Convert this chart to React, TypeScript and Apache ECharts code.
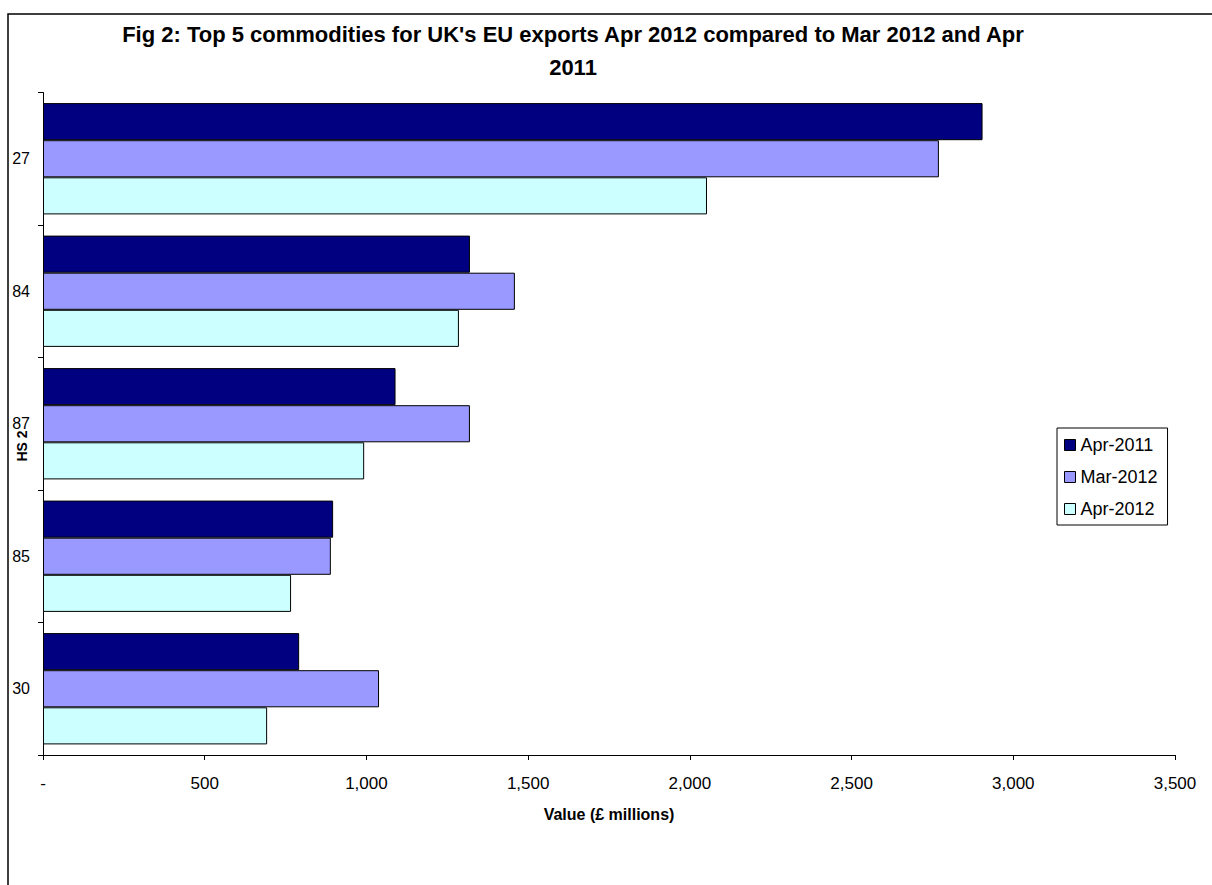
import React, { useEffect, useRef } from "react";
import * as echarts from "echarts";

const categories = ["27", "84", "87", "85", "30"];
const seriesNames = ["Apr-2011", "Mar-2012", "Apr-2012"];
const apr2011 = [2905, 1320, 1090, 897, 792];
const mar2012 = [2770, 1459, 1320, 890, 1039];
const apr2012 = [2053, 1286, 993, 767, 693];
const seriesColors = ["#000080", "#9999FF", "#CCFFFF"];
const xTicks = { min: 0, max: 3500, interval: 500 };

const FONT = "'Liberation Sans', Arial, sans-serif";

export default function App() {
  const ref = useRef<HTMLDivElement>(null);
  useEffect(() => {
    if (!ref.current) return;
    const chart = echarts.init(ref.current, null, { renderer: "svg" });
    const values = [apr2011, mar2012, apr2012];
    chart.setOption({
      animation: false,
      backgroundColor: "#ffffff",
      textStyle: { fontFamily: FONT, color: "#000" },
      title: {
        text: "Fig 2: Top 5 commodities for UK's EU exports Apr 2012 compared to Mar 2012 and Apr\n2011",
        left: 568,
        top: 13,
        textAlign: "center",
        textStyle: { fontFamily: FONT, fontSize: 22, fontWeight: "bold", color: "#000", lineHeight: 33 },
      },
      graphic: [
        {
          type: "rect",
          shape: { x: 8, y: 14, width: 1400, height: 1000 },
          style: { fill: "none", stroke: "#000", lineWidth: 1.5 },
          silent: true,
          z: -1,
        },
        {
          type: "text",
          x: 22,
          y: 446,
          rotation: Math.PI / 2,
          style: {
            text: "HS 2",
            fontFamily: FONT,
            fontSize: 14,
            fontWeight: "bold",
            fill: "#000",
            textAlign: "center",
            textVerticalAlign: "middle",
          },
        },
      ],
      legend: {
        orient: "vertical",
        left: 1057,
        top: 428,
        data: seriesNames,
        icon: "rect",
        itemWidth: 11,
        itemHeight: 11,
        itemGap: 14,
        padding: [8, 10, 7, 7],
        borderColor: "#000",
        borderWidth: 1,
        backgroundColor: "#fff",
        itemStyle: { borderColor: "#000", borderWidth: 1 },
        textStyle: { fontFamily: FONT, fontSize: 18, color: "#000" },
      },
      grid: { left: 43, right: 37, top: 92.5, bottom: 130, containLabel: false, outerBoundsMode: "none" },
      xAxis: {
        type: "value",
        min: xTicks.min,
        max: xTicks.max,
        interval: xTicks.interval,
        name: "Value (£ millions)",
        nameLocation: "middle",
        nameGap: 51,
        nameTextStyle: { fontFamily: FONT, fontSize: 16, fontWeight: "bold", color: "#000" },
        axisLine: { show: true, lineStyle: { color: "#000", width: 1 } },
        axisTick: { show: true, length: 5, lineStyle: { color: "#000" } },
        splitLine: { show: false },
        axisLabel: {
          fontFamily: FONT,
          fontSize: 17,
          color: "#000",
          margin: 20,
          formatter: (v: number) => (v === 0 ? "-" : v.toLocaleString("en-US")),
        },
      },
      yAxis: {
        type: "category",
        data: categories,
        inverse: true,
        axisLine: { show: true, lineStyle: { color: "#000", width: 1 } },
        axisTick: { show: true, length: 5, lineStyle: { color: "#000" } },
        axisLabel: { fontFamily: FONT, fontSize: 16, color: "#000", margin: 13 },
      },
      series: seriesNames.map((name, i) => ({
        name,
        type: "bar",
        data: values[i],
        barGap: "0%",
        barCategoryGap: "16%",
        itemStyle: { color: seriesColors[i], borderColor: "#000", borderWidth: 1 },
      })),
    });
    return () => chart.dispose();
  }, []);
  return (
    <div
      ref={ref}
      style={{ position: "fixed", left: 0, top: 0, width: 1212, height: 885 }}
    />
  );
}
